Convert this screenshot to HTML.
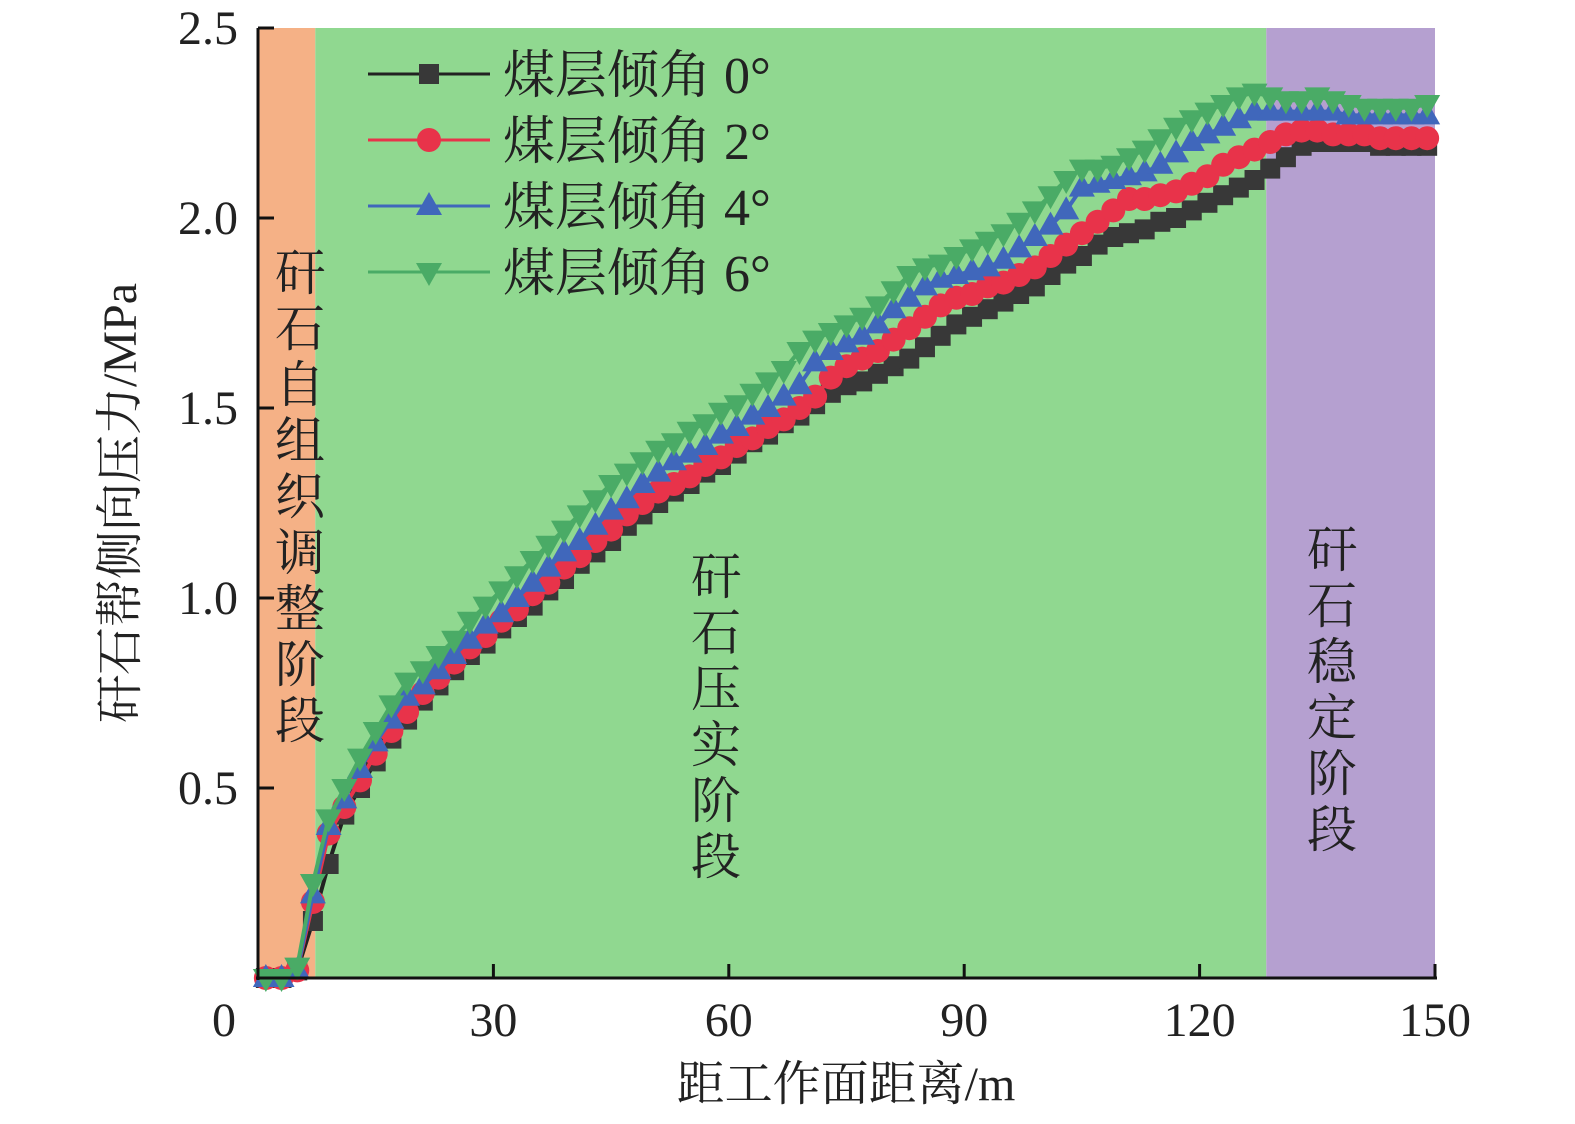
<!DOCTYPE html>
<html><head><meta charset="utf-8"><style>body{margin:0;background:#fff}svg{display:block}text{font-family:"Liberation Serif","Noto Serif CJK SC","Noto Sans CJK SC",serif;fill:#222}</style></head>
<body>
<svg id="chart" width="1575" height="1124" viewBox="0 0 1575 1124" xmlns="http://www.w3.org/2000/svg">
<g id="bg"></g><g id="series"></g><g id="axes"></g><g id="legend"></g>
</svg>
<script>
const xs=[1,3,5,7,9,11,13,15,17,19,21,23,25,27,29,31,33,35,37,39,41,43,45,47,49,51,53,55,57,59,61,63,65,67,69,71,73,75,77,79,81,83,85,87,89,91,93,95,97,99,101,103,105,107,109,111,113,115,117,119,121,123,125,127,129,131,133,135,137,139,141,143,145,147,149];
const s0=[0,0,0.02,0.15,0.3,0.43,0.5,0.57,0.63,0.68,0.73,0.77,0.81,0.85,0.88,0.92,0.95,0.98,1.02,1.05,1.09,1.12,1.15,1.19,1.22,1.25,1.28,1.3,1.33,1.35,1.38,1.41,1.43,1.46,1.48,1.51,1.54,1.56,1.57,1.59,1.61,1.63,1.66,1.69,1.72,1.74,1.76,1.78,1.8,1.82,1.85,1.88,1.9,1.93,1.95,1.96,1.97,1.99,2.0,2.02,2.04,2.06,2.08,2.1,2.13,2.16,2.19,2.2,2.2,2.2,2.2,2.19,2.19,2.19,2.19];
const s2=[0,0,0.02,0.2,0.38,0.45,0.52,0.59,0.65,0.7,0.75,0.79,0.83,0.87,0.9,0.94,0.97,1.01,1.04,1.08,1.11,1.15,1.18,1.22,1.25,1.28,1.3,1.32,1.35,1.37,1.4,1.42,1.45,1.47,1.5,1.53,1.58,1.61,1.63,1.65,1.68,1.71,1.74,1.77,1.79,1.8,1.82,1.83,1.85,1.87,1.9,1.93,1.96,1.99,2.02,2.05,2.05,2.06,2.07,2.09,2.11,2.14,2.16,2.18,2.2,2.22,2.23,2.23,2.22,2.22,2.22,2.21,2.21,2.21,2.21];
const s4=[0,0,0.02,0.22,0.4,0.47,0.55,0.62,0.68,0.74,0.77,0.81,0.85,0.89,0.93,0.96,1.0,1.04,1.08,1.12,1.15,1.19,1.23,1.26,1.3,1.33,1.36,1.38,1.4,1.43,1.45,1.48,1.5,1.53,1.56,1.62,1.65,1.67,1.69,1.72,1.76,1.79,1.82,1.84,1.85,1.86,1.87,1.89,1.92,1.95,1.98,2.02,2.08,2.09,2.1,2.11,2.12,2.14,2.17,2.2,2.22,2.24,2.26,2.28,2.28,2.28,2.28,2.28,2.28,2.27,2.27,2.27,2.27,2.27,2.27];
const s6=[0,0,0.03,0.25,0.42,0.5,0.58,0.65,0.72,0.78,0.81,0.85,0.89,0.94,0.98,1.02,1.06,1.1,1.14,1.18,1.22,1.26,1.3,1.33,1.36,1.39,1.41,1.44,1.46,1.49,1.51,1.54,1.57,1.6,1.65,1.68,1.7,1.72,1.74,1.77,1.81,1.85,1.87,1.88,1.9,1.92,1.94,1.96,1.99,2.02,2.06,2.1,2.13,2.13,2.14,2.16,2.18,2.21,2.24,2.26,2.28,2.3,2.32,2.33,2.32,2.31,2.31,2.32,2.31,2.3,2.29,2.29,2.29,2.29,2.3];
const xTicks=[0,30,60,90,120,150];
const yTicks=[0.5,1.0,1.5,2.0,2.5];
const stageBounds=[0,7.3,128.5,150];
const legendLabels=["煤层倾角 0°","煤层倾角 2°","煤层倾角 4°","煤层倾角 6°"];
const NS="http://www.w3.org/2000/svg";
const X=v=>258+v*(1435-258)/150;
const Y=v=>978-v*380;
function mk(tag,p,attrs){const e=document.createElementNS(NS,tag);for(const k in attrs)e.setAttribute(k,attrs[k]);p.appendChild(e);return e;}
const bg=document.getElementById('bg'),sg=document.getElementById('series'),ax=document.getElementById('axes'),lg=document.getElementById('legend');
const stageColors=['#f5b186','#90d890','#b5a0d0'];
const stageNames=['stage-self-organization','stage-compaction','stage-stable'];
for(let i=0;i<3;i++){const r=mk('rect',bg,{x:X(stageBounds[i]),y:Y(2.5),width:X(stageBounds[i+1])-X(stageBounds[i]),height:Y(0)-Y(2.5),fill:stageColors[i]});

}
function vtext(str,x,y0,name){const t=mk('text',bg,{'font-size':50,'text-anchor':'middle'});


[...str].forEach((c,i)=>{const ts=mk('tspan',t,{x:x,y:y0+i*56});ts.textContent=c;});}
vtext('矸石自组织调整阶段',300,290,'stage-label-self-organization');
vtext('矸石压实阶段',716,594,'stage-label-compaction');
vtext('矸石稳定阶段',1332,567,'stage-label-stable');
function marker(p,type,cx,cy,col,s){
 if(type==0)return mk('rect',p,{x:cx-10*s,y:cy-10*s,width:20*s,height:20*s,fill:col});
 if(type==1)return mk('circle',p,{cx:cx,cy:cy,r:12*s,fill:col});
 if(type==2)return mk('polygon',p,{points:`${cx},${cy-14*s} ${cx-13*s},${cy+9*s} ${cx+13*s},${cy+9*s}`,fill:col});
 return mk('polygon',p,{points:`${cx},${cy+14*s} ${cx-13*s},${cy-9*s} ${cx+13*s},${cy-9*s}`,fill:col});}
const series=[s0,s2,s4,s6],cols=['#383838','#e8334a','#4067bb','#4aab66'],lines=['#222','#e8334a','#4067bb','#4aab66'];
series.forEach((s,k)=>{const g=mk('g',sg,{});


mk('polyline',g,{points:xs.map((x,i)=>X(x)+','+Y(s[i])).join(' '),fill:'none',stroke:lines[k],'stroke-width':4});
xs.forEach((x,i)=>{const m=marker(g,k,X(x),Y(s[i]),cols[k],1);

});});
mk('line',ax,{x1:258,y1:Y(2.5),x2:258,y2:980,stroke:'#111','stroke-width':3});
mk('line',ax,{x1:256,y1:978,x2:1437,y2:978,stroke:'#111','stroke-width':3});
xTicks.forEach(v=>{if(v>0)mk('line',ax,{x1:X(v),y1:978,x2:X(v),y2:964,stroke:'#111','stroke-width':3});
const t=mk('text',ax,{x:v==0?224:X(v),y:1036,'font-size':48,'text-anchor':'middle'});t.textContent=v;

});
yTicks.forEach(v=>{mk('line',ax,{x1:258,y1:Y(v),x2:274,y2:Y(v),stroke:'#111','stroke-width':3});
const t=mk('text',ax,{x:238,y:Y(v)+16,'font-size':48,'text-anchor':'end'});t.textContent=v.toFixed(1);

});
const xt=mk('text',ax,{x:846,y:1100,'font-size':48,'text-anchor':'middle'});xt.textContent='距工作面距离/m';


const yt=mk('text',ax,{x:0,y:0,'font-size':48,'text-anchor':'middle',transform:'translate(136,503) rotate(-90)'});yt.textContent='矸石帮侧向压力/MPa';


legendLabels.forEach((lab,k)=>{const y=74+k*66;const g=mk('g',lg,{});


mk('line',g,{x1:368,y1:y,x2:490,y2:y,stroke:lines[k],'stroke-width':3});
marker(g,k,429,y,cols[k],1);
const t=mk('text',g,{x:503,y:y+19,'font-size':52});t.textContent=lab;});
</script>
</body></html>
